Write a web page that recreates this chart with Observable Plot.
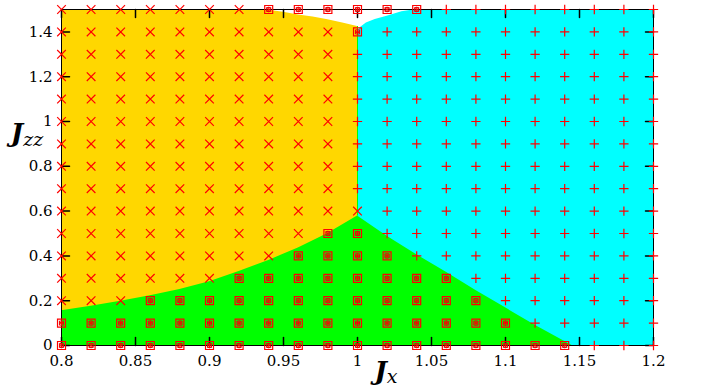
<!DOCTYPE html>
<html><head><meta charset="utf-8">
<script src="https://cdn.jsdelivr.net/npm/d3@7"></script>
<script src="https://cdn.jsdelivr.net/npm/@observablehq/plot@0.6"></script>
<style>body{margin:0;background:#fff}#chart{width:704px;height:390px}
svg text{font-family:"DejaVu Serif" !important;}
</style>
</head><body><div id="chart"></div>
<script>
// axis domains and ticks
const xDomain = [0.8, 1.2];
const yDomain = [0, 1.5];
const xTicks = [0.8, 0.85, 0.9, 0.95, 1, 1.05, 1.1, 1.15, 1.2];
const yTicks = [0, 0.2, 0.4, 0.6, 0.8, 1, 1.2, 1.4];

// sampled grid of (Jx, Jzz)
const gridX = [0.8,0.82,0.84,0.86,0.88,0.9,0.92,0.94,0.96,0.98,1.0,1.02,1.04,1.06,1.08,1.1,1.12,1.14,1.16,1.18,1.2];
const gridY = [0,0.1,0.2,0.3,0.4,0.5,0.6,0.7,0.8,0.9,1.0,1.1,1.2,1.3,1.4,1.5];
// per row (gridY): number of "×" points from the left, then number of boxed points; rest are "+"
const crossCount  = [0, 0, 3, 6, 8, 9, 11, 10, 10, 10, 10, 10, 10, 10, 10, 7];
const squareCount = [18, 16, 12, 8, 4, 2, 0, 0, 0, 0, 0, 0, 0, 0, 1, 6];

// phase boundaries
const greenYellowX = [0.8,0.82,0.84,0.86,0.88,0.9,0.92,0.94,0.96,0.98,1.0];
const greenYellowY = [0.155,0.175,0.197,0.222,0.25,0.285,0.33,0.38,0.435,0.5,0.578];
const greenCyanX = [1.0,1.02,1.04,1.06,1.08,1.1,1.12,1.145];
const greenCyanY = [0.578,0.488,0.405,0.327,0.245,0.168,0.09,0];
const yellowTopX = [0.93,0.94,0.95,0.96,0.97,0.98,0.99,1.0];
const yellowTopY = [1.5,1.497,1.488,1.476,1.466,1.454,1.44,1.424];
const cyanTopX = [1.0,1.002,1.006,1.012,1.02,1.03,1.04];
const cyanTopY = [1.40,1.42,1.44,1.455,1.47,1.49,1.5];
const phaseLineX = 1.0;

// build tables
const crosses = [], squares = [], pluses = [];
gridY.forEach((y, i) => {
  gridX.forEach((x, j) => {
    const p = {x, y};
    if (j < crossCount[i]) crosses.push(p);
    else if (j < crossCount[i] + squareCount[i]) squares.push(p);
    else pluses.push(p);
  });
});
const greenArea = greenYellowX.map((x, i) => ({x, y: greenYellowY[i]}))
  .concat(greenCyanX.slice(1).map((x, i) => ({x, y: greenCyanY[i + 1]})));
const gapArea = yellowTopX.map((x, i) => ({x, y: yellowTopY[i]}))
  .concat(cyanTopX.map((x, i) => ({x, y: cyanTopY[i]})));

const tickShape = {draw(ctx, l) { ctx.moveTo(0, 0); ctx.lineTo(0, -l); }};
const tickLen = 8;
const font = "DejaVu Serif";

const plot = Plot.plot({
  width: 704, height: 390,
  marginLeft: 61, marginRight: 51, marginTop: 9, marginBottom: 45,
  x: {domain: xDomain},
  y: {domain: yDomain},
  style: {fontFamily: font, fontSize: "15px", background: "white"},
  marks: [
    Plot.rect([{}], {x1: () => xDomain[0], x2: () => phaseLineX, y1: () => yDomain[0], y2: () => yDomain[1], fill: "#ffd700"}),
    Plot.rect([{}], {x1: () => phaseLineX, x2: () => xDomain[1], y1: () => yDomain[0], y2: () => yDomain[1], fill: "#00ffff"}),
    Plot.areaY(greenArea, {x: "x", y1: () => yDomain[0], y2: "y", fill: "#00ff00", curve: "linear"}),
    Plot.areaY(gapArea, {x: "x", y1: "y", y2: () => yDomain[1], fill: "white", curve: "linear"}),
    Plot.ruleX([phaseLineX], {y1: greenYellowY[greenYellowY.length - 1], y2: yellowTopY[yellowTopY.length - 1], stroke: "#00ff00", strokeWidth: 1}),
    Plot.frame({stroke: "black", strokeWidth: 1}),
    Plot.vector(yTicks, {x: () => xDomain[0], y: d => d, length: tickLen, rotate: 90, anchor: "start", shape: tickShape, stroke: "black"}),
    Plot.vector(yTicks, {x: () => xDomain[1], y: d => d, length: tickLen, rotate: -90, anchor: "start", shape: tickShape, stroke: "black"}),
    Plot.vector(xTicks, {x: d => d, y: () => yDomain[0], length: tickLen, rotate: 0, anchor: "start", shape: tickShape, stroke: "black"}),
    Plot.vector(xTicks, {x: d => d, y: () => yDomain[1], length: tickLen, rotate: 180, anchor: "start", shape: tickShape, stroke: "black"}),
    Plot.axisX(xTicks, {tickSize: 0, tickPadding: 10, tickFormat: d => String(d), fontSize: 15, fontFamily: font, fill: "black", label: null}),
    Plot.axisY(yTicks, {tickSize: 0, tickPadding: 9, tickFormat: d => String(d), fontSize: 15, fontFamily: font, fill: "black", label: null}),
    Plot.dot(crosses, {x: "x", y: "y", symbol: "times", r: 4, stroke: "#ff0000", strokeWidth: 1.2}),
    Plot.dot(pluses, {x: "x", y: "y", symbol: "plus", r: 3.1, stroke: "#ff0000", strokeWidth: 1.2}),
    Plot.dot(squares, {x: "x", y: "y", symbol: "square", r: 4.5, stroke: "#ff0000", strokeWidth: 1.2, fill: "none"}),
    Plot.dot(squares, {x: "x", y: "y", symbol: "square", r: 2.3, stroke: "#d01010", strokeWidth: 1, fill: "none"}),
    Plot.dot(squares, {x: "x", y: "y", symbol: "asterisk", r: 2.6, stroke: "#ff0000", strokeWidth: 1})
  ]
});

const svg = d3.select(plot);
const t1 = svg.append("text").attr("x", 27).attr("y", 142).attr("fill", "black");
t1.append("tspan").attr("font-size", 26).attr("font-weight", "bold").attr("font-style", "italic").text("J");
t1.append("tspan").attr("font-size", 19).attr("font-style", "italic").attr("dy", 4).text("zz");
const t2 = svg.append("text").attr("x", 386).attr("y", 380).attr("fill", "black");
t2.append("tspan").attr("font-size", 26).attr("font-weight", "bold").attr("font-style", "italic").text("J");
t2.append("tspan").attr("font-size", 19).attr("font-style", "italic").attr("dy", 3).text("x");

document.getElementById("chart").appendChild(plot);
</script>
</body></html>
